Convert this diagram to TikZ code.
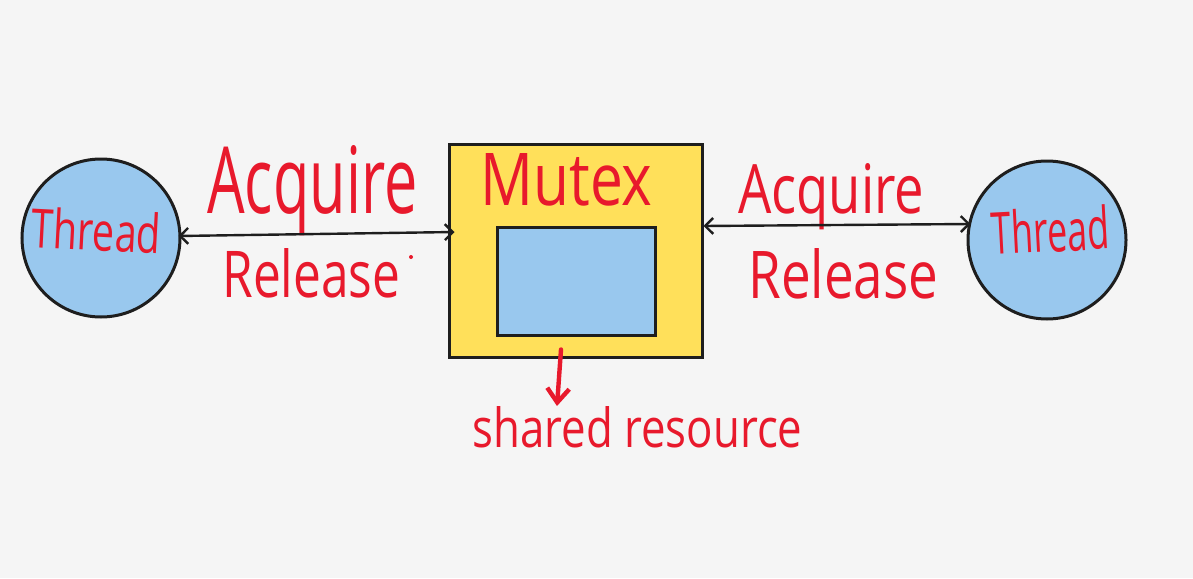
\documentclass[tikz,border=0pt]{standalone}
\usepackage{fontspec}
\setmainfont{Open Sans}
\usepackage{graphicx}
\usetikzlibrary{arrows.meta}
\definecolor{bgcol}{HTML}{F5F5F5}
\definecolor{bluefill}{HTML}{99C8EE}
\definecolor{yellowfill}{HTML}{FFE05A}
\definecolor{inkred}{HTML}{E8192C}
\definecolor{strokecol}{HTML}{1E1E1E}
\newlength\pxu
\setlength\pxu{0.5pt}
\newcommand{\hw}[3]{\resizebox{#1\pxu}{#2\pxu}{#3}}
\begin{document}
\begin{tikzpicture}[x=0.5pt,y=-0.5pt,
  threadnode/.style={circle, draw=strokecol, line width=1.5pt, fill=bluefill, minimum size=79pt, inner sep=0pt},
  mutexbox/.style={rectangle, draw=strokecol, line width=1.5pt, fill=yellowfill, minimum width=126.5pt, minimum height=106.5pt, inner sep=0pt},
  resbox/.style={rectangle, draw=strokecol, line width=1.5pt, fill=bluefill, minimum width=79pt, minimum height=54pt, inner sep=0pt},
  lbl/.style={anchor=base west, inner sep=0pt, text=inkred},
  link/.style={draw=strokecol, line width=1.2pt, {Straight Barb[length=4pt,width=8pt]}-{Straight Barb[length=4pt,width=8pt]}},
  pointer/.style={draw=inkred, line width=2.2pt, line cap=round, -{Straight Barb[length=7pt,width=11pt]}}
]
\fill[bgcol] (0,0) rectangle (1193,578);
\useasboundingbox (0,0) rectangle (1193,578);

% shapes
\node[threadnode] (tL) at (101,238) {};
\node[threadnode] (tR) at (1047,240) {};
\node[mutexbox] (mutex) at (575.5,250.5) {};
\node[resbox] (res) at (576,281) {};

% labels
\node[lbl, rotate=-3] (thrL) at (30,247) {\hw{130}{41}{Thread}};
\node[lbl, rotate=3] (thrR) at (992,255) {\hw{118}{44}{Thread}};
\node[lbl] (acqL) at (207,213) {\hw{210}{68}{Acquire}};
\node[lbl] (relL) at (222,297) {\hw{178}{49}{Release}};
\node[lbl] (mtx) at (480,205) {\hw{172}{52}{Mutex}};
\node[lbl] (acqR) at (738,213) {\hw{186}{50}{Acquire}};
\node[lbl] (relR) at (748,298) {\hw{190}{50}{Release}};
\node[lbl] (shared) at (472,447) {\hw{330}{41}{shared resource}};
\node[circle, fill=inkred, inner sep=0pt, minimum size=2pt] (dot) at (411,257) {};

% connectors
\draw[link] ([xshift=-1.5pt,yshift=1pt]tL.east) -- ([xshift=3.5pt,yshift=9.25pt]mutex.west);
\draw[link] ([yshift=12.25pt]mutex.east) -- ([xshift=2pt,yshift=8pt]tR.west);
\coordinate (pstart) at ([xshift=-7.25pt,yshift=4.5pt]mutex.south);
\coordinate (pend) at (557,406);
\draw[pointer] (pstart) -- (pend);
\end{tikzpicture}
\end{document}
